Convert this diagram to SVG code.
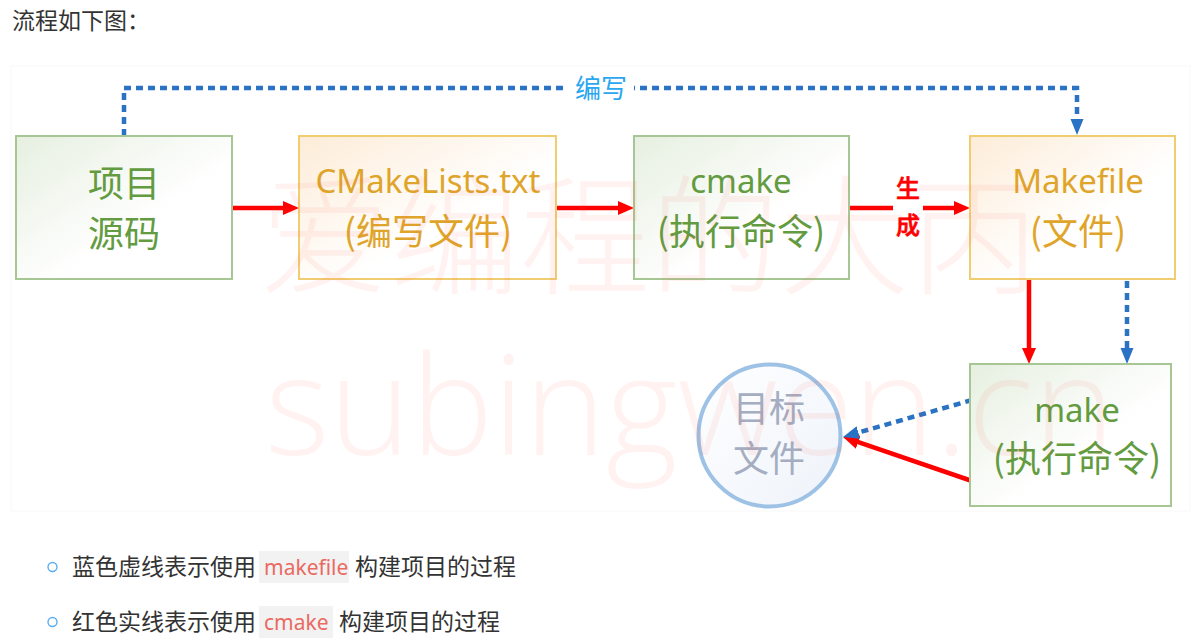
<svg xmlns="http://www.w3.org/2000/svg" width="1201" height="643" viewBox="0 0 1201 643">
  <style>
    .page { font-family: "Noto Sans CJK SC", "Noto Sans", sans-serif; fill: #333333; }
    .lbl { font-family: "Noto Sans", "Noto Sans CJK SC", sans-serif; font-size: 33px; text-anchor: middle; }
    .cjk { font-family: "Noto Sans CJK SC", "Noto Sans", sans-serif; font-size: 36px; text-anchor: middle; }
    .g-box { stroke: #a6c793; stroke-width: 2; fill: url(#gGreen); }
    .o-box { stroke: #f0cd70; stroke-width: 2; fill: url(#gOrange); }
    .g-txt { fill: #639b40; }
    .o-txt { fill: #dfa52a; }
    .red { stroke: #ff0000; stroke-width: 4.5; fill: none; }
    .blue { stroke: #2a72c3; stroke-width: 4.5; fill: none; stroke-dasharray: 7 5; }
    .code-bg { fill: #f2f2f2; }
    .code { fill: #ea6a62; font-family: "Noto Sans", "Noto Sans CJK SC", sans-serif; }
    .wm { fill: #ff4a3a; opacity: 0.065; }
  </style>
  <defs>
    <linearGradient id="gGreen" x1="0" y1="0" x2="1" y2="1">
      <stop offset="0" stop-color="#e6efe0"/>
      <stop offset="0.6" stop-color="#ffffff"/>
    </linearGradient>
    <linearGradient id="gOrange" x1="0" y1="0" x2="1" y2="1">
      <stop offset="0" stop-color="#fdecd8"/>
      <stop offset="0.6" stop-color="#ffffff"/>
    </linearGradient>
    <linearGradient id="gCircle" x1="0" y1="0" x2="1" y2="1">
      <stop offset="0" stop-color="#ffffff"/>
      <stop offset="1" stop-color="#eef3fa"/>
    </linearGradient>
    <marker id="ahRed" markerUnits="userSpaceOnUse" markerWidth="16" markerHeight="16" refX="6" refY="8" orient="auto">
      <path d="M0,1 L16,8 L0,15 z" fill="#ff0000"/>
    </marker>
    <marker id="ahBlue" markerUnits="userSpaceOnUse" markerWidth="16" markerHeight="16" refX="6" refY="8" orient="auto">
      <path d="M0,1.5 L16,8 L0,14.5 z" fill="#2a72c3"/>
    </marker>
  </defs>

  <rect width="1201" height="643" fill="#ffffff"/>

  <!-- page text -->
  <text class="page" x="12" y="29" font-size="23">流程如下图：</text>

  <!-- image frame -->
  <rect x="11" y="66" width="1179" height="445" fill="#ffffff" stroke="#f8f8f8" stroke-width="1"/>

  <!-- connectors -->
  <g id="connectors">
    <path class="blue" d="M124,136 V88 H1077 V125" marker-end="url(#ahBlue)"/>
    <rect x="568" y="72" width="66" height="32" fill="#ffffff"/>
    <text x="601" y="98" font-family="Noto Sans CJK SC, sans-serif" font-size="26" fill="#2ba7ef" text-anchor="middle">编写</text>

    <path class="red" d="M232,208 H289" marker-end="url(#ahRed)"/>
    <path class="red" d="M556,208 H624" marker-end="url(#ahRed)"/>
    <path class="red" d="M849,208 H893"/>
    <path class="red" d="M923,208 H960" marker-end="url(#ahRed)"/>
    <text x="908" y="197" font-family="Noto Sans CJK SC, sans-serif" font-size="24" font-weight="500" fill="#ff0000" stroke="#ff0000" stroke-width="0.6" text-anchor="middle">生</text>
    <text x="908" y="234" font-family="Noto Sans CJK SC, sans-serif" font-size="24" font-weight="500" fill="#ff0000" stroke="#ff0000" stroke-width="0.6" text-anchor="middle">成</text>

    <path class="red" d="M1029,280 V354" marker-end="url(#ahRed)"/>
    <path class="blue" d="M1127,281 V354" marker-end="url(#ahBlue)"/>

    <path class="red" d="M972,481 L852.5,440.2" marker-end="url(#ahRed)"/>
    <path class="blue" d="M972,400 L852.6,434.2" marker-end="url(#ahBlue)"/>
  </g>

  <!-- nodes -->
  <g id="node-source">
    <rect class="g-box" x="16" y="136" width="216" height="143"/>
    <text class="cjk g-txt" x="124" y="197">项目</text>
    <text class="cjk g-txt" x="124" y="247">源码</text>
  </g>
  <g id="node-cmakelists">
    <rect class="o-box" x="299" y="136" width="257" height="143"/>
    <text class="lbl o-txt" x="428" y="193">CMakeLists.txt</text>
    <text class="cjk o-txt" x="428" y="245">(编写文件)</text>
  </g>
  <g id="node-cmake">
    <rect class="g-box" x="634" y="136" width="215" height="143"/>
    <text class="lbl g-txt" x="741" y="193">cmake</text>
    <text class="cjk g-txt" x="741" y="245">(执行命令)</text>
  </g>
  <g id="node-makefile">
    <rect class="o-box" x="970" y="136" width="205" height="143"/>
    <text class="lbl o-txt" x="1078" y="193">Makefile</text>
    <text class="cjk o-txt" x="1078" y="245">(文件)</text>
  </g>
  <g id="node-make">
    <rect class="g-box" x="970" y="364" width="201" height="142"/>
    <text class="lbl g-txt" x="1077" y="422">make</text>
    <text class="cjk g-txt" x="1077" y="472">(执行命令)</text>
  </g>
  <g id="node-target">
    <circle cx="769.5" cy="435.5" r="71" fill="url(#gCircle)" stroke="#9ec2e5" stroke-width="4"/>
    <text class="cjk" x="769" y="422" fill="#a5adc1">目标</text>
    <text class="cjk" x="769" y="472" fill="#a5adc1">文件</text>
  </g>

  <!-- watermark -->
  <g id="watermark">
    <text class="wm" x="260" y="284" font-family="Noto Sans CJK SC, sans-serif" font-size="130" font-weight="300">爱编程的大丙</text>
    <text class="wm" x="265" y="455" font-family="Open Sans, sans-serif" font-size="138" font-weight="300" textLength="850" lengthAdjust="spacingAndGlyphs">subingwen.cn</text>
  </g>

  <!-- bullet list -->
  <g id="bullets">
    <circle cx="52.5" cy="567" r="4.5" fill="none" stroke="#5aaef2" stroke-width="1.4"/>
    <text class="page" x="72" y="575" font-size="23">蓝色虚线表示使用</text>
    <rect class="code-bg" x="259" y="551" width="90" height="32"/>
    <text class="code" x="264" y="575" font-size="21">makefile</text>
    <text class="page" x="355" y="575" font-size="23">构建项目的过程</text>

    <circle cx="52.5" cy="622" r="4.5" fill="none" stroke="#5aaef2" stroke-width="1.4"/>
    <text class="page" x="72" y="630" font-size="23">红色实线表示使用</text>
    <rect class="code-bg" x="259" y="606" width="74" height="32"/>
    <text class="code" x="264" y="630" font-size="21">cmake</text>
    <text class="page" x="339" y="630" font-size="23">构建项目的过程</text>
  </g>
</svg>
